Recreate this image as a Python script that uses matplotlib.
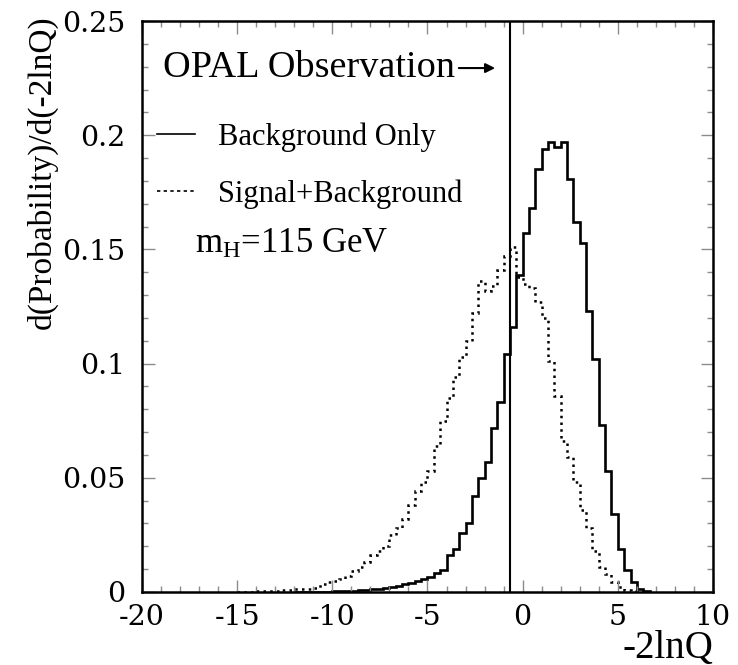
import numpy as np
import matplotlib
matplotlib.use("Agg")
import matplotlib.pyplot as plt
from matplotlib.lines import Line2D
from matplotlib.ticker import MultipleLocator

plt.rcParams['font.family'] = ['Liberation Serif', 'DejaVu Serif']
plt.rcParams['mathtext.fontset'] = 'custom'
plt.rcParams['mathtext.rm'] = 'Liberation Serif'
plt.rcParams['mathtext.it'] = 'Liberation Serif:italic'

# --- Datos: histogramas de -2lnQ (bins de 1/3) ---
bin_width = 1 / 3

# Solo fondo: bins desde -12 hasta 6.667
bkg_start = -12.0
bkg_only = [
    0.0001, 0.0001, 0.0001, 0.0002, 0.0002, 0.0002, 0.0003, 0.0004, 0.0005, 0.0006,
    0.0008, 0.0010, 0.0012, 0.0015, 0.0019, 0.0023, 0.0028, 0.0034, 0.0040, 0.0047,
    0.0055, 0.0065, 0.0082, 0.0096, 0.016, 0.019, 0.026, 0.030, 0.042, 0.050,
    0.057, 0.072, 0.083, 0.104,
    0.116, 0.139, 0.157, 0.168, 0.185, 0.194, 0.197, 0.195, 0.197, 0.181,
    0.162, 0.153, 0.123, 0.102, 0.073, 0.053, 0.034, 0.019, 0.0096, 0.0045,
    0.0012, 0.0004,
]

# Señal + fondo: bins desde -15 hasta 6
sig_start = -15.0
sig_bkg = [
    0.0001, 0.0002, 0.0002, 0.0003, 0.0004, 0.0005, 0.0006, 0.0008, 0.0010, 0.0012,
    0.0014, 0.0015, 0.0017, 0.0036, 0.0044, 0.0050, 0.0057, 0.0072, 0.0092, 0.011,
    0.013, 0.016, 0.018, 0.020, 0.025, 0.028, 0.032, 0.038, 0.044, 0.048,
    0.053, 0.064, 0.075, 0.085, 0.094, 0.103, 0.110, 0.122, 0.136, 0.132,
    0.134, 0.141, 0.147, 0.151,
    0.138, 0.135, 0.133, 0.127, 0.120, 0.101, 0.086, 0.066, 0.059, 0.048,
    0.036, 0.028, 0.018, 0.011, 0.008, 0.0045, 0.0022, 0.0010, 0.0004,
]

obs_value = -0.65   # -2lnQ observado por OPAL

xticks = [-20, -15, -10, -5, 0, 5, 10]
xtick_labels = ['-20', '-15', '-10', '-5', '0', '5', '10']
yticks = [0, 0.05, 0.1, 0.15, 0.2, 0.25]
ytick_labels = ['0', '0.05', '0.1', '0.15', '0.2', '0.25']

# --- Figura ---
fig = plt.figure(figsize=(7.38, 6.65), dpi=100)
ax = fig.add_axes([0.1924, 0.1098, 0.7737, 0.8586])

edges_bkg = bkg_start + bin_width * np.arange(len(bkg_only) + 1)
edges_sig = sig_start + bin_width * np.arange(len(sig_bkg) + 1)

ax.stairs(bkg_only, edges_bkg, color='black', lw=1.9)
ax.stairs(sig_bkg, edges_sig, color='black', lw=1.8, linestyle=(0, (1, 1.7)))
ax.axvline(obs_value, color='black', lw=1.5)

ax.set_xlim(-20, 10)
ax.set_ylim(0, 0.25)

ax.set_xticks(xticks)
ax.set_xticklabels(xtick_labels)
ax.set_yticks(yticks)
ax.set_yticklabels(ytick_labels)
ax.xaxis.set_minor_locator(MultipleLocator(1))
ax.yaxis.set_minor_locator(MultipleLocator(0.01))
ax.tick_params(which='both', direction='in', top=True, right=True, color='0.55', width=1)
ax.tick_params(which='major', length=9, labelsize=20.5)
ax.tick_params(which='minor', length=4.5)
ax.tick_params(axis='x', pad=9)
ax.tick_params(axis='y', pad=12)
for lbl in ax.get_xticklabels() + ax.get_yticklabels():
    lbl.set_family('DejaVu Serif')
for s in ax.spines.values():
    s.set_linewidth(1.8)

# Etiquetas de ejes
fig.text(42 / 738, 1 - 172 / 665, 'd(Probability)/d(-2lnQ)', rotation=90,
         ha='center', va='center', fontsize=24)
fig.text(713 / 738, 1 - 648 / 665, '-2lnQ', ha='right', va='center', fontsize=28)

# Textos dentro del gráfico
ax.text(-18.9, 0.2294, 'OPAL Observation', fontsize=27.5, va='center', ha='left')
ax.annotate('', xy=(-1.3, 0.2294), xytext=(-3.5, 0.2294),
            arrowprops=dict(arrowstyle='-|>', color='black', lw=1.5, mutation_scale=14))
ax.text(-17.2, 0.152, r'm$_{\rm H}$=115 GeV', fontsize=25, va='center', ha='left')

handles = [
    Line2D([], [], color='black', lw=1.2),
    Line2D([], [], color='black', lw=1.2, linestyle=(0, (2, 2))),
]
ax.legend(handles, ['Background Only', 'Signal+Background'],
          loc='upper left', bbox_to_anchor=(0.026, 0.823), frameon=False,
          fontsize=22, handlelength=1.25, handletextpad=0.75,
          labelspacing=0.92, borderpad=0, borderaxespad=0)

fig.savefig('out.png', dpi=100)
